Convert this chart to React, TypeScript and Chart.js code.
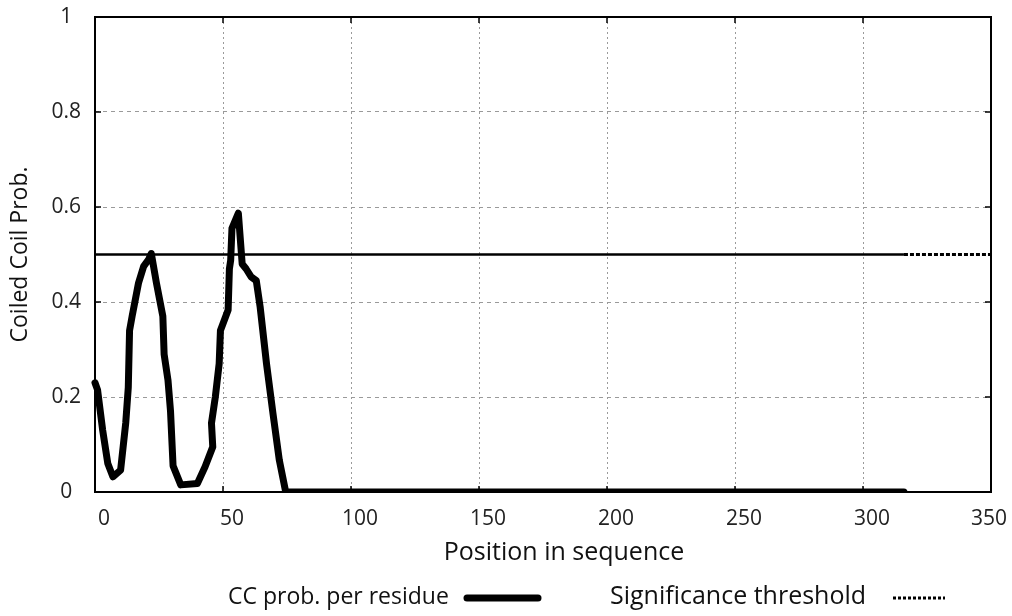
import React, { useEffect, useRef } from "react";
import { Chart, registerables } from "chart.js";

Chart.register(...registerables);

// ---- data ----
const ccPositions = [
  0, 1, 3, 5, 7, 10, 12, 13, 13.5, 14.5, 17, 19, 21, 22, 24, 26.5, 27, 28.5, 29.5, 30.5,
  33.5, 40, 43, 46, 45.5, 47, 48.5, 49, 52, 52.5, 53, 53.5, 56, 57.5, 59, 61, 63, 64.5, 67,
  69.5, 72, 74.5, 316,
];
const ccValues = [
  0.23, 0.215, 0.13, 0.06, 0.032, 0.046, 0.145, 0.22, 0.34, 0.37, 0.44, 0.475, 0.49, 0.502,
  0.44, 0.37, 0.29, 0.236, 0.17, 0.055, 0.015, 0.018, 0.053, 0.095, 0.145, 0.2, 0.27, 0.34,
  0.383, 0.47, 0.488, 0.555, 0.587, 0.48, 0.47, 0.453, 0.445, 0.39, 0.27, 0.166, 0.067, 0, 0,
];
const thresholdPositions = [0, 316, 350];
const thresholdValues = [0.5, 0.5, 0.5];

const xTickValues = [0, 50, 100, 150, 200, 250, 300, 350];
const yTickLabels = ["0", "0.2", "0.4", "0.6", "0.8", "1"];

const xTitle = "Position in sequence";
const yTitle = "Coiled Coil Prob.";
const legendLabels = ["CC prob. per residue", "Significance threshold"];

const FONT = '"Open Sans", "DejaVu Sans", sans-serif';

export default function App() {
  const ref = useRef<HTMLCanvasElement | null>(null);

  useEffect(() => {
    document.body.style.margin = "0";
    const canvas = ref.current;
    if (!canvas) return;

    const framePlugin = {
      id: "frameAndLegend",
      afterDraw(chart: any) {
        const { ctx, chartArea: a, scales } = chart;
        ctx.save();
        ctx.setLineDash([]);
        ctx.strokeStyle = "#000";
        ctx.lineWidth = 2;
        ctx.strokeRect(a.left, a.top, a.right - a.left, a.bottom - a.top);
        // inner tick marks on all four sides
        ctx.lineWidth = 1.5;
        ctx.beginPath();
        xTickValues.forEach((v) => {
          const px = scales.x.getPixelForValue(v);
          ctx.moveTo(px, a.top);
          ctx.lineTo(px, a.top + 6);
          ctx.moveTo(px, a.bottom);
          ctx.lineTo(px, a.bottom - 6);
        });
        yTickLabels.forEach((l) => {
          const py = scales.y.getPixelForValue(parseFloat(l));
          ctx.moveTo(a.left, py);
          ctx.lineTo(a.left + 6, py);
          ctx.moveTo(a.right, py);
          ctx.lineTo(a.right - 6, py);
        });
        ctx.stroke();

        // x axis title
        ctx.fillStyle = "#111";
        ctx.font = `25px ${FONT}`;
        ctx.textAlign = "center";
        ctx.textBaseline = "middle";
        ctx.fillText(xTitle, (a.left + a.right) / 2 + 21, 553);

        // legend
        ctx.textAlign = "left";
        ctx.font = `23px ${FONT}`;
        ctx.fillText(legendLabels[0], 228, 597);
        ctx.lineCap = "round";
        ctx.lineWidth = 7;
        ctx.beginPath();
        ctx.moveTo(467, 598);
        ctx.lineTo(538, 598);
        ctx.stroke();

        ctx.font = `25px ${FONT}`;
        ctx.fillText(legendLabels[1], 610, 597);
        ctx.lineCap = "butt";
        ctx.lineWidth = 3;
        ctx.setLineDash([3, 2]);
        ctx.beginPath();
        ctx.moveTo(893, 598);
        ctx.lineTo(945, 598);
        ctx.stroke();
        ctx.restore();
      },
    };

    const chart = new Chart(canvas, {
      type: "line",
      data: {
        datasets: [
          {
            label: legendLabels[0],
            data: ccPositions.map((x, i) => ({ x, y: ccValues[i] })),
            borderColor: "#000",
            borderWidth: 7,
            pointRadius: 0,
            tension: 0,
            fill: false,
            borderJoinStyle: "round",
            borderCapStyle: "round",
            clip: { left: 6, top: 6, right: 6, bottom: 0 },
          },
          {
            label: legendLabels[1],
            data: thresholdPositions.map((x, i) => ({ x, y: thresholdValues[i] })),
            borderColor: "#000",
            borderWidth: 2.5,
            pointRadius: 0,
            tension: 0,
            fill: false,
            segment: {
              borderDash: (c: any) => (c.p0DataIndex === 1 ? [4, 2] : undefined),
              borderWidth: (c: any) => (c.p0DataIndex === 1 ? 3 : 2.5),
            },
          },
        ],
      },
      options: {
        animation: false,
        responsive: false,
        maintainAspectRatio: false,
        layout: { padding: { top: 17, right: 21, left: 0, bottom: 0 } },
        plugins: {
          legend: { display: false },
          tooltip: { enabled: false },
        },
        scales: {
          x: {
            type: "linear",
            min: 0,
            max: 350,
            afterFit: (s: any) => {
              s.height = 124;
              s.paddingLeft = 0;
              s.paddingRight = 0;
            },
            afterBuildTicks: (s: any) => {
              s.ticks = xTickValues.map((v) => ({ value: v }));
            },
            ticks: {
              font: { family: FONT, size: 21 },
              color: "#222",
              padding: 14,
              labelOffset: 9,
              maxRotation: 0,
              autoSkip: false,
              callback: (v: any) => (v === 350 ? "350    " : String(v)),
            },
            grid: {
              color: "#9a9a9a",
              lineWidth: 1,
              drawTicks: false,
              tickLength: 0,
            },
            border: { display: false, dash: [2, 3] },
          },
          y: {
            type: "linear",
            min: 0,
            max: 1,
            afterFit: (s: any) => {
              s.width = 95;
              s.paddingTop = 0;
              s.paddingBottom = 0;
            },
            afterBuildTicks: (s: any) => {
              s.ticks = yTickLabels.map((l) => ({ value: parseFloat(l) }));
            },
            ticks: {
              font: { family: FONT, size: 21 },
              color: "#222",
              padding: 14,
              crossAlign: "center",
              autoSkip: false,
              callback: (v: any) => {
                const l = yTickLabels.find((t) => Math.abs(parseFloat(t) - v) < 1e-6);
                return l ?? "";
              },
            },
            grid: {
              color: "#9a9a9a",
              lineWidth: 1,
              drawTicks: false,
              tickLength: 0,
            },
            border: { display: false, dash: [4, 4] },
            title: {
              display: true,
              text: yTitle,
              font: { family: FONT, size: 23 },
              color: "#111",
              padding: { top: 7, bottom: 0 },
            },
          },
        },
      },
      plugins: [framePlugin],
    });

    return () => chart.destroy();
  }, []);

  return (
    <div style={{ width: 1012, height: 616 }}>
      <canvas ref={ref} width={1012} height={616} style={{ display: "block" }} />
    </div>
  );
}
